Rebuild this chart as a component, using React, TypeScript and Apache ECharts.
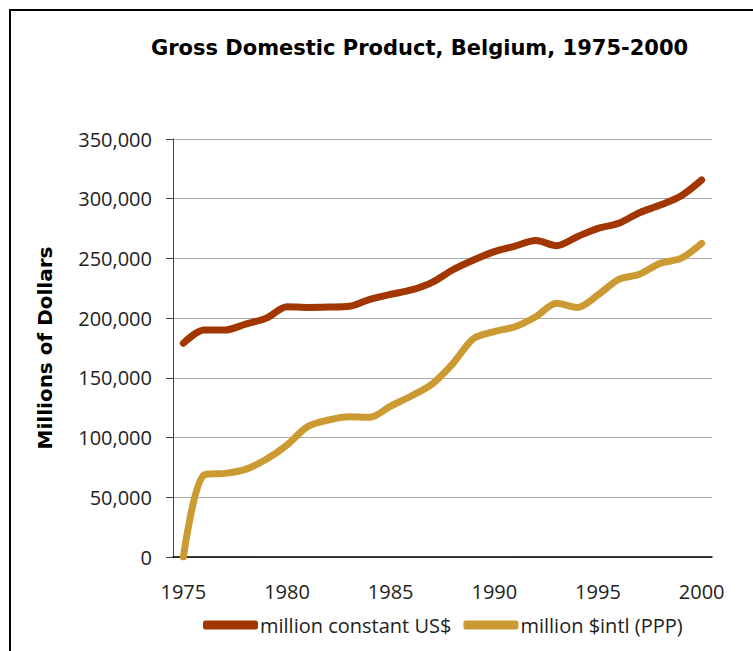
import React, { useEffect, useRef } from "react";
import * as echarts from "echarts";

const years = [
  "1975", "1976", "1977", "1978", "1979", "1980", "1981", "1982", "1983",
  "1984", "1985", "1986", "1987", "1988", "1989", "1990", "1991", "1992",
  "1993", "1994", "1995", "1996", "1997", "1998", "1999", "2000",
];

const constantUSD = [
  179000, 190000, 190000, 195000, 200000, 209500, 209000, 209300, 210000,
  215800, 220000, 223600, 230000, 240500, 248700, 255700, 260400, 265000,
  260700, 268200, 275200, 279400, 288300, 294700, 302300, 315700,
];

const intlPPP = [
  0, 68700, 70000, 73400, 81800, 93800, 109200, 114700, 117500,
  117000, 126400, 134800, 144900, 162000, 183000, 188700, 192800, 201200,
  212400, 209000, 219400, 232500, 236700, 245900, 250000, 262600,
];

const seriesNames = ["million constant US$", "million $intl (PPP)"];
const seriesColors = ["#a23600", "#cc9a33"];

export default function App() {
  const ref = useRef<HTMLDivElement>(null);

  useEffect(() => {
    if (!ref.current) return;
    const chart = echarts.init(ref.current, undefined, { renderer: "svg" });
    const font = "'Open Sans', 'Noto Sans', sans-serif";
    const boldFont = "'DejaVu Sans', 'Open Sans', sans-serif";
    chart.setOption({
      animation: false,
      backgroundColor: "#ffffff",
      textStyle: { fontFamily: font },
      title: {
        text: "Gross Domestic Product, Belgium, 1975-2000",
        left: 146,
        top: 32,
        textStyle: {
          fontFamily: boldFont,
          fontSize: 21,
          fontWeight: "bold",
          color: "#000000",
        },
      },
      graphic: [
        {
          type: "rect",
          shape: { x: 10, y: 10, width: 800, height: 700 },
          style: { fill: "none", stroke: "#000000", lineWidth: 2 },
          silent: true,
        },
      ],
      legend: {
        left: 198,
        top: 610,
        itemWidth: 55,
        itemHeight: 9,
        itemGap: 12,
        icon: "roundRect",
        textStyle: { fontFamily: font, fontSize: 20, color: "#222222", padding: [0, 0, 0, -3] },
        data: seriesNames,
      },
      grid: { left: 173, right: 41, top: 139, bottom: 94, containLabel: false },
      xAxis: {
        type: "category",
        data: years,
        boundaryGap: true,
        axisLine: { lineStyle: { color: "#000000", width: 1.5 } },
        axisTick: { show: false },
        axisLabel: {
          interval: (idx: number) => idx % 5 === 0,
          fontSize: 20,
          color: "#222222",
          margin: 24,
          fontFamily: font,
        },
      },
      yAxis: {
        type: "value",
        min: 0,
        max: 350000,
        interval: 50000,
        name: "Millions of Dollars",
        nameLocation: "middle",
        nameGap: 118,
        nameTextStyle: { fontFamily: boldFont, fontSize: 20, fontWeight: "bold", color: "#000000" },
        axisLine: { show: true, lineStyle: { color: "#444444", width: 1 } },
        axisTick: { show: true, length: 7, lineStyle: { color: "#444444" } },
        axisLabel: {
          fontSize: 20,
          color: "#222222",
          margin: 21,
          fontFamily: font,
          formatter: (v: number) => v.toLocaleString("en-US"),
        },
        splitLine: { lineStyle: { color: "#aaaaaa", width: 1 } },
      },
      series: [
        {
          name: seriesNames[0],
          type: "line",
          data: constantUSD,
          smooth: 0.3,
          showSymbol: false,
          color: seriesColors[0],
          lineStyle: { width: 7, color: seriesColors[0], cap: "round" },
        },
        {
          name: seriesNames[1],
          type: "line",
          data: intlPPP,
          smooth: 0.3,
          showSymbol: false,
          color: seriesColors[1],
          lineStyle: { width: 7, color: seriesColors[1], cap: "round" },
        },
      ],
    });
    return () => chart.dispose();
  }, []);

  return (
    <div
      ref={ref}
      style={{ position: "fixed", left: 0, top: 0, width: 753, height: 651 }}
    />
  );
}
